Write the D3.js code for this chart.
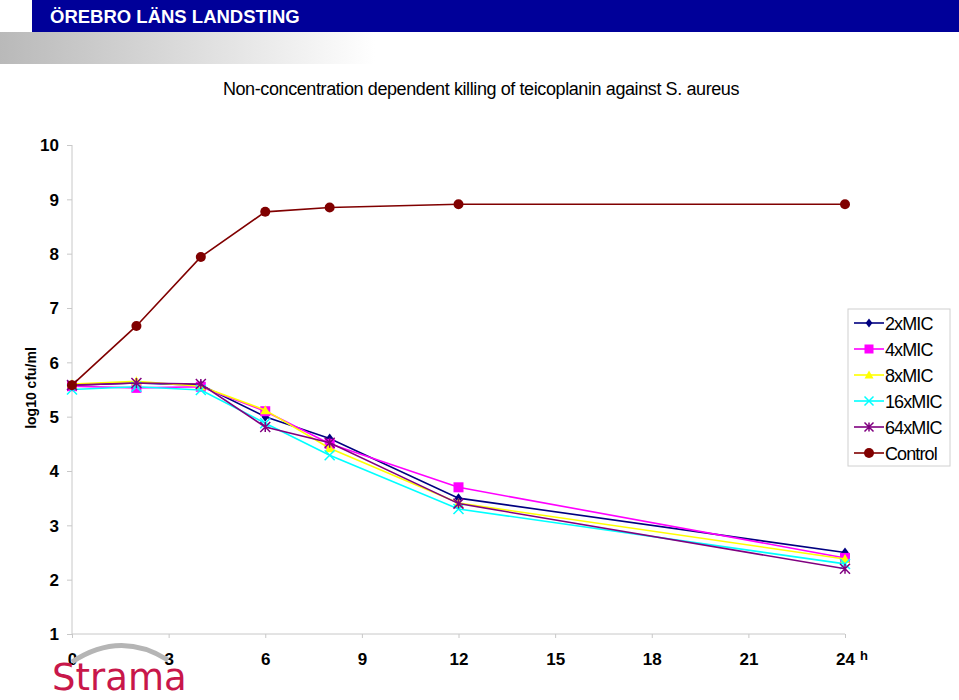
<!DOCTYPE html>
<html>
<head>
<meta charset="utf-8">
<script src="https://cdn.jsdelivr.net/npm/d3@7"></script>
<style>
  body { margin: 0; background: #fff; }
  svg { font-family: "Liberation Sans", Arial, sans-serif; }
  .axis path, .axis line { stroke: #c8c8c8; }
  .axis text { font-size: 17px; font-weight: bold; fill: #000; }
</style>
</head>
<body>
<svg id="chart" width="959" height="700"></svg>
<script>
// sampling times (h)
var hours = [0, 2, 4, 6, 8, 12, 24];
var xTicks = [0, 3, 6, 9, 12, 15, 18, 21, 24];
var yTicks = [1, 2, 3, 4, 5, 6, 7, 8, 9, 10];

var seriesNames = ["2xMIC", "4xMIC", "8xMIC", "16xMIC", "64xMIC", "Control"];
var seriesColors = ["#000080", "#ff00ff", "#ffff00", "#00ffff", "#800080", "#800000"];
var seriesMarkers = ["diamond", "square", "triangle", "x", "star", "circle"];

var mic2 = [5.58, 5.62, 5.58, 5.0, 4.6, 3.5, 2.5];
var mic4 = [5.56, 5.53, 5.55, 5.1, 4.5, 3.7, 2.4];
var mic8 = [5.6, 5.65, 5.56, 5.12, 4.42, 3.41, 2.38];
var mic16 = [5.5, 5.55, 5.49, 4.88, 4.29, 3.3, 2.29];
var mic64 = [5.58, 5.62, 5.6, 4.81, 4.52, 3.4, 2.2];
var control = [5.58, 6.67, 7.94, 8.77, 8.85, 8.91, 8.91];

var allSeries = [mic2, mic4, mic8, mic16, mic64, control];

var svg = d3.select("#chart");

// header band
var grad = svg.append("defs").append("linearGradient").attr("id", "fade");
grad.append("stop").attr("offset", "0%").attr("stop-color", "#b9b9b9");
grad.append("stop").attr("offset", "100%").attr("stop-color", "#ffffff");
svg.append("rect").attr("x", 0).attr("y", 32).attr("width", 375).attr("height", 32).attr("fill", "url(#fade)");
svg.append("rect").attr("x", 32).attr("y", 0).attr("width", 927).attr("height", 32).attr("fill", "#000099");
svg.append("text").attr("x", 50).attr("y", 23).attr("fill", "#fff")
  .attr("font-size", "18.5px").attr("font-weight", "bold").text("ÖREBRO LÄNS LANDSTING");

svg.append("text").attr("x", 481).attr("y", 95).attr("text-anchor", "middle")
  .attr("font-size", "18px").attr("letter-spacing", "-0.4px")
  .text("Non-concentration dependent killing of teicoplanin against S. aureus");

var x = d3.scaleLinear().domain([0, 24]).range([72, 845]);
var y = d3.scaleLinear().domain([1, 10]).range([634, 145]);

svg.append("g").attr("class", "axis").attr("transform", "translate(72,0)")
  .call(d3.axisLeft(y).tickValues(yTicks).tickSize(5).tickPadding(8))
  .call(function(g){ g.select(".domain").attr("d", "M0,145V634"); })
  .selectAll("text").attr("dy", "0.35em");

svg.append("g").attr("class", "axis").attr("transform", "translate(0,634)")
  .call(d3.axisBottom(x).tickValues(xTicks).tickSize(4).tickPadding(15))
  .call(function(g){ g.select(".domain").attr("d", "M72,0H845"); });

svg.append("text").attr("x", 860).attr("y", 660).attr("font-size", "13px").attr("font-weight", "bold").text("h");

svg.append("text").attr("transform", "translate(36,388) rotate(-90)")
  .attr("text-anchor", "middle").attr("font-size", "14px").attr("font-weight", "bold").text("log10 cfu/ml");

function marker(g, type, color, s) {
  if (type === "diamond") {
    g.append("path").attr("d", "M0," + (-s) + "L" + (s * 0.75) + ",0L0," + s + "L" + (-s * 0.75) + ",0Z").attr("fill", color);
  } else if (type === "square") {
    g.append("rect").attr("x", -s).attr("y", -s).attr("width", 2 * s).attr("height", 2 * s).attr("fill", color);
  } else if (type === "triangle") {
    g.append("path").attr("d", "M0," + (-s) + "L" + s + "," + (s * 0.8) + "L" + (-s) + "," + (s * 0.8) + "Z").attr("fill", color);
  } else if (type === "x") {
    g.append("path").attr("d", "M" + (-s) + "," + (-s) + "L" + s + "," + s + "M" + (-s) + "," + s + "L" + s + "," + (-s))
      .attr("stroke", color).attr("stroke-width", 1.5);
  } else if (type === "star") {
    g.append("path").attr("d", "M" + (-s) + "," + (-s) + "L" + s + "," + s + "M" + (-s) + "," + s + "L" + s + "," + (-s) + "M0," + (-s) + "V" + s)
      .attr("stroke", color).attr("stroke-width", 1.5);
  } else {
    g.append("circle").attr("r", s).attr("fill", color);
  }
}

var line = d3.line()
  .x(function(d, i) { return x(hours[i]); })
  .y(function(d) { return y(d); });

for (var i = 0; i < allSeries.length; i++) {
  var grp = svg.append("g");
  grp.append("path").attr("d", line(allSeries[i])).attr("fill", "none")
    .attr("stroke", seriesColors[i]).attr("stroke-width", 1.6);
  for (var j = 0; j < hours.length; j++) {
    var m = grp.append("g").attr("transform", "translate(" + x(hours[j]) + "," + y(allSeries[i][j]) + ")");
    marker(m, seriesMarkers[i], seriesColors[i], 5);
  }
}

// legend
var lg = svg.append("g").attr("transform", "translate(848,309)");
lg.append("rect").attr("width", 102).attr("height", 157).attr("fill", "#fff").attr("stroke", "#d0d0d0");
seriesNames.forEach(function(n, i) {
  var row = lg.append("g").attr("transform", "translate(0," + (14 + i * 26) + ")");
  row.append("line").attr("x1", 6).attr("x2", 36).attr("stroke", seriesColors[i]).attr("stroke-width", 1.6);
  marker(row.append("g").attr("transform", "translate(21,0)"), seriesMarkers[i], seriesColors[i], seriesMarkers[i] === "circle" ? 5 : 4.5);
  row.append("text").attr("x", 37).attr("y", 7).attr("font-size", "18px").attr("letter-spacing", "-0.9px").text(n);
});

// Strama logo
svg.append("path").attr("d", "M72,662 Q120,630 168,660").attr("fill", "none")
  .attr("stroke", "#b5b5b5").attr("stroke-width", 5);
svg.append("text").attr("x", 52).attr("y", 690).attr("font-size", "37px").attr("fill", "#c8174a")
  .attr("font-family", "'DejaVu Sans', sans-serif").text("Strama");
</script>
</body>
</html>
